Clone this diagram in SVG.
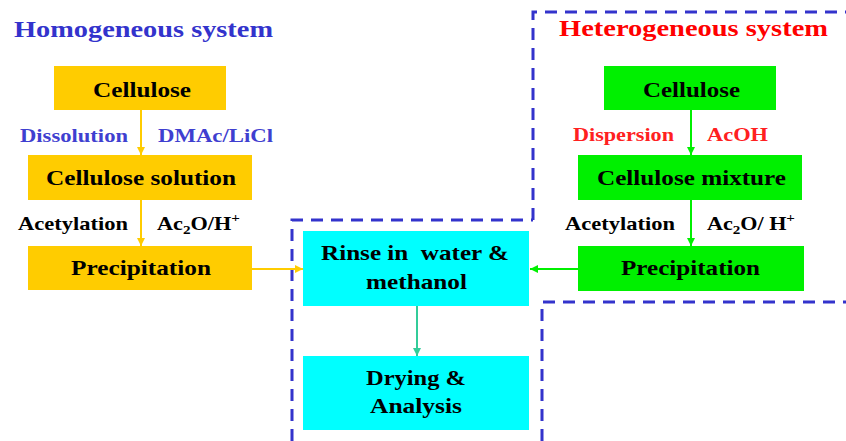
<svg xmlns="http://www.w3.org/2000/svg" width="846" height="441" viewBox="0 0 846 441" font-family="'Liberation Serif', 'Times New Roman', 'DejaVu Serif', serif">
<defs>
<style>
text{font-family:"Liberation Serif","Times New Roman","DejaVu Serif",serif;font-weight:bold;}
.box{font-size:21px;fill:#000;}
.lbl{font-size:19px;}
.ttl{font-size:24px;}
.yel{fill:#FFCC00;}
.grn{fill:#00F000;}
.cyn{fill:#00FFFF;}
.dash{fill:none;stroke:#3333CC;stroke-width:3;stroke-dasharray:12 8;}
</style>
<marker id="ay" viewBox="0 0 10 10" refX="10" refY="5" markerWidth="8" markerHeight="8" markerUnits="userSpaceOnUse" orient="auto"><path d="M0,0L10,5L0,10z" fill="#FFCC00"/></marker>
<marker id="ag" viewBox="0 0 10 10" refX="10" refY="5" markerWidth="8" markerHeight="8" markerUnits="userSpaceOnUse" orient="auto"><path d="M0,0L10,5L0,10z" fill="#00F000"/></marker>
<marker id="at" viewBox="0 0 10 10" refX="10" refY="5" markerWidth="8" markerHeight="8" markerUnits="userSpaceOnUse" orient="auto"><path d="M0,0L10,5L0,10z" fill="#33CC99"/></marker>
</defs>
<rect width="846" height="441" fill="#fff"/>

<g id="regions">
<path class="dash" d="M533,220 V12 H846"/>
<path class="dash" d="M292,441 V220 H533"/>
<path class="dash" d="M542,441 V302 H846"/>
</g>

<g id="titles">
<text class="ttl" x="14" y="37" fill="#3333CC" textLength="259" lengthAdjust="spacingAndGlyphs">Homogeneous system</text>
<text class="ttl" x="559" y="36" fill="#FF0000" textLength="269" lengthAdjust="spacingAndGlyphs">Heterogeneous system</text>
</g>

<g id="connectors">
<line x1="141" y1="110" x2="141" y2="155" stroke="#FFCC00" stroke-width="2" marker-end="url(#ay)"/>
<line x1="141" y1="200" x2="141" y2="246" stroke="#FFCC00" stroke-width="2" marker-end="url(#ay)"/>
<line x1="252" y1="269" x2="303" y2="269" stroke="#FFCC00" stroke-width="2" marker-end="url(#ay)"/>
<line x1="691" y1="110" x2="691" y2="155" stroke="#00F000" stroke-width="2" marker-end="url(#ag)"/>
<line x1="691" y1="200" x2="691" y2="246" stroke="#00F000" stroke-width="2" marker-end="url(#ag)"/>
<line x1="578" y1="269" x2="530" y2="269" stroke="#00F000" stroke-width="2" marker-end="url(#ag)"/>
<line x1="417" y1="306" x2="417" y2="356" stroke="#33CC99" stroke-width="2" marker-end="url(#at)"/>
</g>

<g id="labels">
<text class="lbl" x="20" y="142" fill="#3F3FD0" textLength="108" lengthAdjust="spacingAndGlyphs">Dissolution</text>
<text class="lbl" x="158" y="142" fill="#3F3FD0" textLength="115" lengthAdjust="spacingAndGlyphs">DMAc/LiCl</text>
<text class="lbl" x="18" y="230" fill="#000" textLength="110" lengthAdjust="spacingAndGlyphs">Acetylation</text>
<text class="lbl" x="157" y="230" fill="#000" font-size="20" textLength="83" lengthAdjust="spacingAndGlyphs">Ac<tspan font-size="13" dy="4">2</tspan><tspan dy="-4">O/H</tspan><tspan font-size="13" dy="-8">+</tspan></text>
<text class="lbl" x="573" y="141" fill="#FF2020" textLength="101" lengthAdjust="spacingAndGlyphs">Dispersion</text>
<text class="lbl" x="707" y="141" fill="#FF2020" textLength="61" lengthAdjust="spacingAndGlyphs">AcOH</text>
<text class="lbl" x="565" y="230" fill="#000" textLength="110" lengthAdjust="spacingAndGlyphs">Acetylation</text>
<text class="lbl" x="707" y="230" fill="#000" font-size="20" textLength="88" lengthAdjust="spacingAndGlyphs">Ac<tspan font-size="13" dy="4">2</tspan><tspan dy="-4">O/ H</tspan><tspan font-size="13" dy="-8">+</tspan></text>
</g>

<g id="hom-cellulose">
<rect class="yel" x="54" y="66" width="172" height="44"/>
<text class="box" x="93" y="97" textLength="98" lengthAdjust="spacingAndGlyphs">Cellulose</text>
</g>
<g id="hom-solution">
<rect class="yel" x="28" y="155" width="224" height="45"/>
<text class="box" x="46" y="185" textLength="190" lengthAdjust="spacingAndGlyphs">Cellulose solution</text>
</g>
<g id="hom-precipitation">
<rect class="yel" x="28" y="246" width="224" height="44"/>
<text class="box" x="71" y="275" textLength="140" lengthAdjust="spacingAndGlyphs">Precipitation</text>
</g>

<g id="het-cellulose">
<rect class="grn" x="604" y="66" width="172" height="44"/>
<text class="box" x="643" y="97" textLength="97" lengthAdjust="spacingAndGlyphs">Cellulose</text>
</g>
<g id="het-mixture">
<rect class="grn" x="578" y="155" width="224" height="45"/>
<text class="box" x="597" y="185" textLength="189" lengthAdjust="spacingAndGlyphs">Cellulose mixture</text>
</g>
<g id="het-precipitation">
<rect class="grn" x="578" y="246" width="226" height="45"/>
<text class="box" x="621" y="275" textLength="139" lengthAdjust="spacingAndGlyphs">Precipitation</text>
</g>

<g id="rinse">
<rect class="cyn" x="303" y="231" width="226" height="75"/>
<text class="box" x="321" y="260" textLength="188" lengthAdjust="spacingAndGlyphs" xml:space="preserve">Rinse in  water &amp;</text>
<text class="box" x="366" y="289" textLength="101" lengthAdjust="spacingAndGlyphs">methanol</text>
</g>
<g id="drying">
<rect class="cyn" x="303" y="356" width="226" height="74"/>
<text class="box" x="366" y="385" textLength="100" lengthAdjust="spacingAndGlyphs">Drying &amp;</text>
<text class="box" x="370" y="413" textLength="92" lengthAdjust="spacingAndGlyphs">Analysis</text>
</g>
</svg>
